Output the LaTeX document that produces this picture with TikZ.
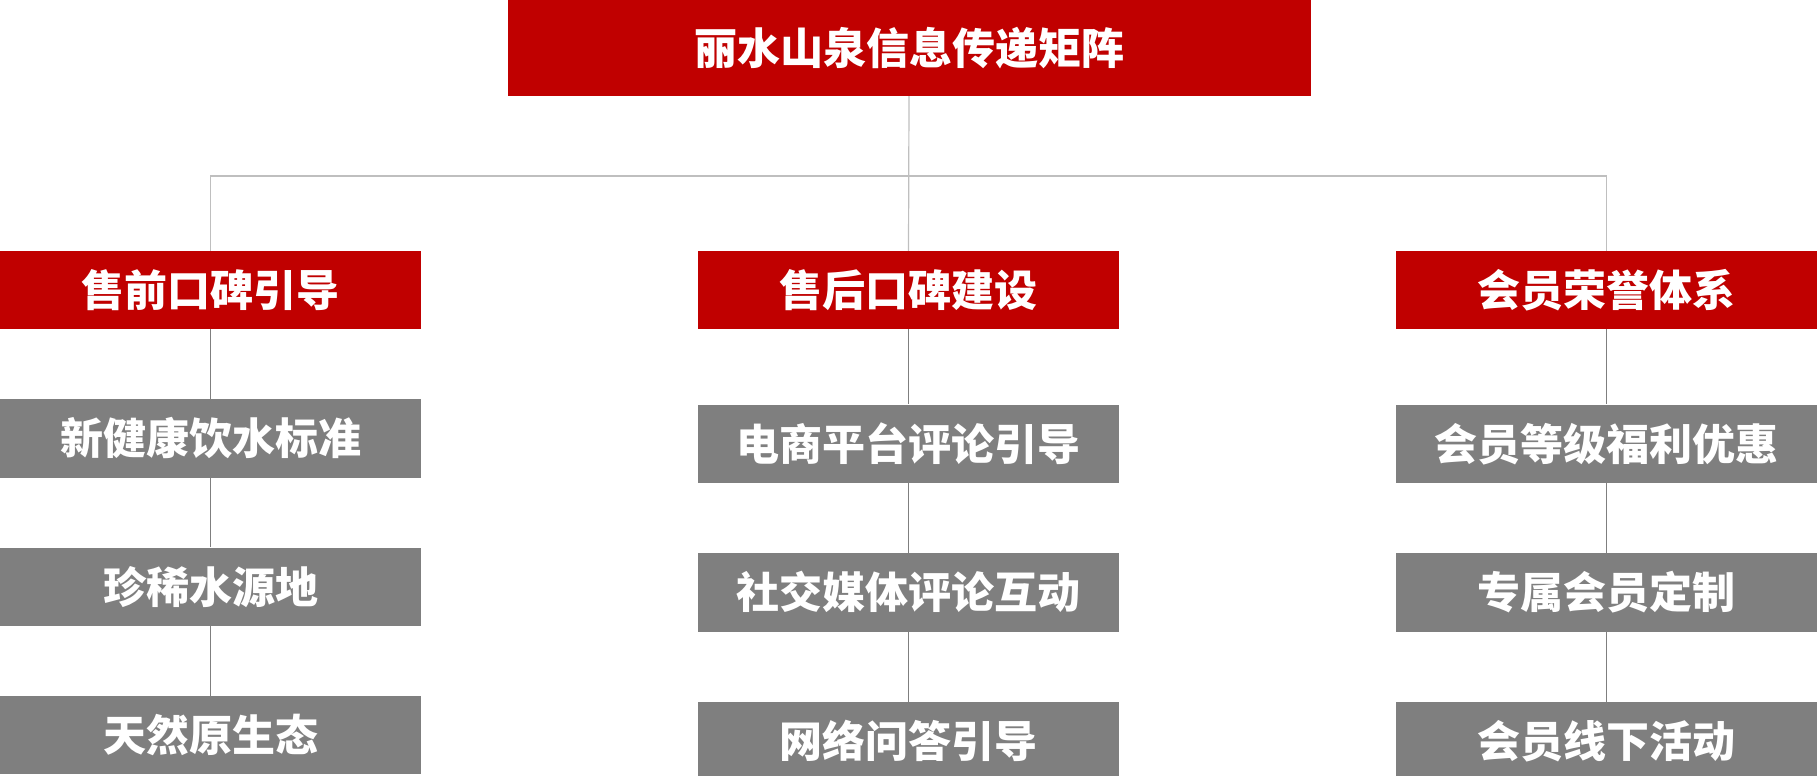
\documentclass[tikz,border=0pt]{standalone}
\usepackage{fontspec}
\newfontfamily\cjk{Noto Sans CJK SC}
\usetikzlibrary{backgrounds}
\definecolor{boxred}{HTML}{C00000}
\definecolor{boxgray}{HTML}{7F7F7F}
\definecolor{linelight}{HTML}{BFBFBF}
\definecolor{linedark}{HTML}{7F7F7F}
\tikzset{
  base/.style={rectangle, inner sep=0pt, text=white,
    font=\cjk\bfseries\fontsize{43}{50}\selectfont},
  topbox/.style={base, fill=boxred, minimum width=803pt, minimum height=96pt},
  headbox/.style={base, fill=boxred, minimum width=421pt, minimum height=77.5pt},
  itembox/.style={base, fill=boxgray, minimum width=421pt, minimum height=78.5pt},
  upline/.style={draw=linelight, line width=1.2pt},
  lowline/.style={draw=linedark, line width=1.2pt}
}
\begin{document}
\begin{tikzpicture}[x=1pt,y=-1pt]
\useasboundingbox (0,0) rectangle (1817,776);
\node[topbox] (top) at (909,48) {丽水山泉信息传递矩阵};
\node[headbox] (h1) at (210.5,289.75) {售前口碑引导};
\node[headbox] (h2) at (908.5,289.75) {售后口碑建设};
\node[headbox] (h3) at (1606.5,289.75) {会员荣誉体系};
\node[itembox] (a1) at (210.5,438.25) {新健康饮水标准};
\node[itembox] (a2) at (210.5,586.85) {珍稀水源地};
\node[itembox] (a3) at (210.5,735.1) {天然原生态};
\node[itembox] (b1) at (908.5,443.75) {电商平台评论引导};
\node[itembox] (b2) at (908.5,592.25) {社交媒体评论互动};
\node[itembox] (b3) at (908.5,741.25) {网络问答引导};
\node[itembox] (c1) at (1606.5,443.75) {会员等级福利优惠};
\node[itembox] (c2) at (1606.5,592.25) {专属会员定制};
\node[itembox] (c3) at (1606.5,741.25) {会员线下活动};
\coordinate (bar) at (909,176);
\begin{scope}[on background layer]
\draw[upline] (top.south) -- (h2.north);
\draw[upline] (h1.north) |- (bar) -| (h3.north);
\draw[lowline] (h1) -- (a1) -- (a2) -- (a3);
\draw[lowline] (h2) -- (b1) -- (b2) -- (b3);
\draw[lowline] (h3) -- (c1) -- (c2) -- (c3);
\end{scope}
\end{tikzpicture}
\end{document}
